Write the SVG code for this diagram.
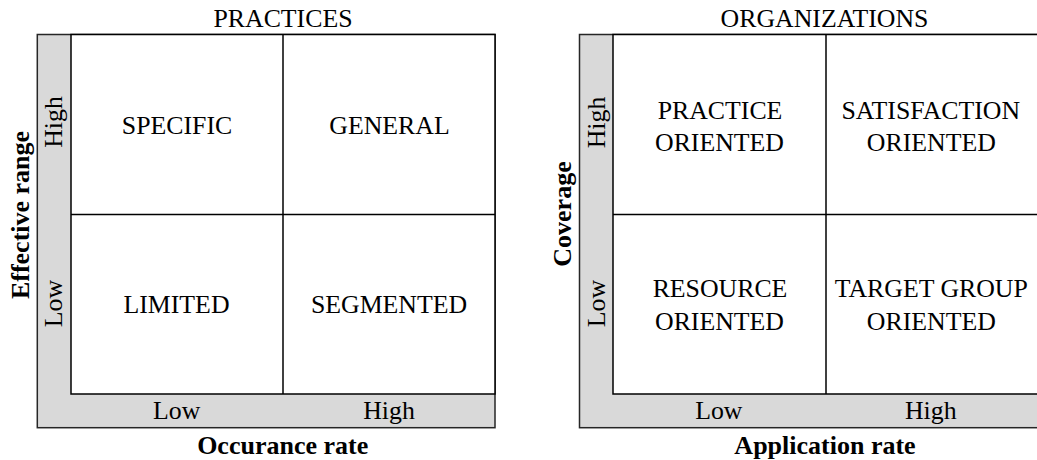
<svg xmlns="http://www.w3.org/2000/svg" width="1037" height="460" viewBox="0 0 1037 460">
<style>
.bg{fill:#ffffff}
.strip{fill:#d9d9d9;stroke:#262626;stroke-width:1.5}
.cell{fill:#ffffff;stroke:#000000;stroke-width:1.5}
.div{stroke:#000000;stroke-width:1.5;fill:none}
.t{font-family:"Liberation Serif","Times New Roman",serif;font-size:25.8px;fill:#000;text-anchor:middle}
.b{font-family:"Liberation Serif","Times New Roman",serif;font-size:26px;font-weight:bold;fill:#000;text-anchor:middle}
</style>
<rect class="bg" x="0" y="0" width="1037" height="460"/>

<!-- LEFT MATRIX: PRACTICES -->
<g id="practices-frame">
  <rect class="strip" x="37.3" y="34.5" width="457.7" height="393.2"/>
  <rect class="cell" x="71" y="34.5" width="424" height="359.5"/>
  <text class="t" x="283" y="27">PRACTICES</text>
</g>
<g id="practices-grid">
  <line class="div" x1="283" y1="34.5" x2="283" y2="394"/>
  <line class="div" x1="71" y1="214.5" x2="495" y2="214.5"/>
</g>
<g id="q-specific"><text class="t" x="177" y="134">SPECIFIC</text></g>
<g id="q-general"><text class="t" x="389.5" y="134">GENERAL</text></g>
<g id="q-limited"><text class="t" x="176.5" y="313">LIMITED</text></g>
<g id="q-segmented"><text class="t" x="389" y="313">SEGMENTED</text></g>
<g id="practices-x-axis">
  <text class="t" x="176.7" y="419">Low</text>
  <text class="t" x="389" y="419">High</text>
  <text class="b" x="282.7" y="453.5">Occurance rate</text>
</g>
<g id="practices-y-axis">
  <text class="t" transform="translate(61.7,122) rotate(-90)">High</text>
  <text class="t" transform="translate(61.7,303.5) rotate(-90)">Low</text>
  <text class="b" transform="translate(28.5,215) rotate(-90)">Effective range</text>
</g>

<!-- RIGHT MATRIX: ORGANIZATIONS -->
<g id="organizations-frame">
  <rect class="strip" x="579.5" y="34.5" width="465" height="393.2"/>
  <rect class="cell" x="613" y="34.5" width="430" height="359.5"/>
  <text class="t" x="824.5" y="27">ORGANIZATIONS</text>
</g>
<g id="organizations-grid">
  <line class="div" x1="826" y1="34.5" x2="826" y2="394"/>
  <line class="div" x1="613" y1="214.5" x2="1045" y2="214.5"/>
</g>
<g id="q-practice-oriented">
  <text class="t" x="720" y="118.5">PRACTICE</text>
  <text class="t" x="719.5" y="150.7">ORIENTED</text>
</g>
<g id="q-satisfaction-oriented">
  <text class="t" x="930.8" y="118.5">SATISFACTION</text>
  <text class="t" x="931.3" y="150.7">ORIENTED</text>
</g>
<g id="q-resource-oriented">
  <text class="t" x="720" y="296.7">RESOURCE</text>
  <text class="t" x="719.5" y="330">ORIENTED</text>
</g>
<g id="q-target-group-oriented">
  <text class="t" x="931.3" y="296.7">TARGET GROUP</text>
  <text class="t" x="931.3" y="330">ORIENTED</text>
</g>
<g id="organizations-x-axis">
  <text class="t" x="718.8" y="419">Low</text>
  <text class="t" x="930.8" y="419">High</text>
  <text class="b" x="825" y="453.5">Application rate</text>
</g>
<g id="organizations-y-axis">
  <text class="t" transform="translate(604.5,122.5) rotate(-90)">High</text>
  <text class="t" transform="translate(604.5,303.5) rotate(-90)">Low</text>
  <text class="b" transform="translate(571,214) rotate(-90)">Coverage</text>
</g>

<g id="connectors"></g>
</svg>
